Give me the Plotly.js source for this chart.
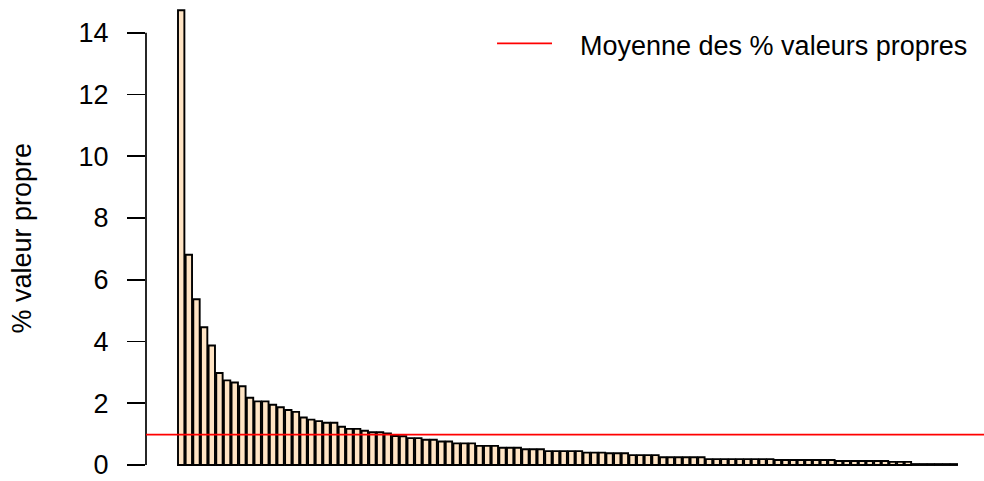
<!DOCTYPE html>
<html>
<head>
<meta charset="utf-8">
<script src="https://cdn.plot.ly/plotly-3.0.1.min.js"></script>
<style>html,body{margin:0;padding:0;background:#fff;}#chart{width:984px;height:481px;}</style>
</head>
<body>
<div id="chart"></div>
<script>
// % of eigenvalue for each axis
const pctValues = [
  14.73, 6.81, 5.37, 4.46, 3.87, 2.98, 2.74, 2.67, 2.55, 2.18,
  2.06, 2.06, 1.95, 1.87, 1.78, 1.72, 1.54, 1.47, 1.42, 1.37,
  1.37, 1.24, 1.17, 1.17, 1.11, 1.06, 1.06, 1.02, 0.94, 0.93,
  0.87, 0.87, 0.82, 0.82, 0.76, 0.76, 0.70, 0.70, 0.70, 0.62,
  0.62, 0.62, 0.56, 0.56, 0.56, 0.51, 0.51, 0.51, 0.45, 0.45,
  0.45, 0.45, 0.45, 0.40, 0.40, 0.40, 0.38, 0.38, 0.38, 0.32,
  0.32, 0.32, 0.32, 0.25, 0.25, 0.25, 0.25, 0.25, 0.25, 0.19,
  0.19, 0.19, 0.19, 0.19, 0.19, 0.19, 0.19, 0.19, 0.16, 0.16,
  0.16, 0.16, 0.16, 0.16, 0.16, 0.16, 0.13, 0.13, 0.13, 0.13,
  0.13, 0.13, 0.13, 0.10, 0.10, 0.10, 0.03, 0.03, 0.03, 0.03,
  0.03, 0.03
];
const yTickValues = [0, 2, 4, 6, 8, 10, 12, 14];
const yTitle = "% valeur propre";
const legendLabel = "Moyenne des % valeurs propres";

const FONT = "Liberation Sans, Arial, Helvetica, sans-serif";
const meanPct = pctValues.reduce((a, b) => a + b, 0) / pctValues.length;
// R barplot positions: width 1, space 0.2
const xPos = pctValues.map((_, i) => 0.7 + 1.2 * i);

const bars = {
  type: "bar",
  x: xPos,
  y: pctValues,
  width: 1,
  marker: { color: "#FFE4C4", line: { color: "#000000", width: 1.9 } },
  hoverinfo: "y",
  showlegend: false
};

const layout = {
  width: 984,
  height: 481,
  margin: { l: 146, r: 0, t: 0, b: 0, pad: 0 },
  paper_bgcolor: "#ffffff",
  plot_bgcolor: "#ffffff",
  showlegend: false,
  font: { family: FONT, color: "#000000", size: 27 },
  xaxis: {
    visible: false,
    range: [-4.82, 126.63],
    fixedrange: true
  },
  yaxis: {
    range: [-0.518, 15.06],
    tickmode: "array",
    tickvals: yTickValues,
    ticktext: yTickValues.map(String),
    ticks: "outside",
    ticklen: 18,
    tickwidth: 1.7,
    tickcolor: "#000000",
    ticklabelstandoff: 13,
    tickfont: { family: FONT, size: 27, color: "#000000" },
    showline: false,
    showgrid: false,
    zeroline: false,
    fixedrange: true
  },
  shapes: [
    { type: "line", xref: "paper", yref: "y", x0: 0, x1: 0, y0: 0, y1: 14,
      line: { color: "#000000", width: 1.7 } },
    { type: "line", xref: "paper", yref: "y", x0: 0, x1: 1, y0: meanPct, y1: meanPct,
      line: { color: "#FF0000", width: 1.7 } },
    { type: "line", xref: "paper", yref: "paper", x0: 0.4189, x1: 0.4845, y0: 0.91, y1: 0.91,
      line: { color: "#FF0000", width: 1.7 } }
  ],
  annotations: [
    { text: yTitle, xref: "paper", yref: "paper", x: -0.1474, y: 0.5052,
      xanchor: "center", yanchor: "middle", textangle: -90, showarrow: false,
      font: { family: FONT, size: 27, color: "#000000" } },
    { text: legendLabel, xref: "paper", yref: "paper", x: 0.5155, y: 0.904,
      xanchor: "left", yanchor: "middle", showarrow: false,
      font: { family: FONT, size: 27, color: "#000000" } }
  ]
};

Plotly.newPlot("chart", [bars], layout, { staticPlot: true, displayModeBar: false });
</script>
</body>
</html>
